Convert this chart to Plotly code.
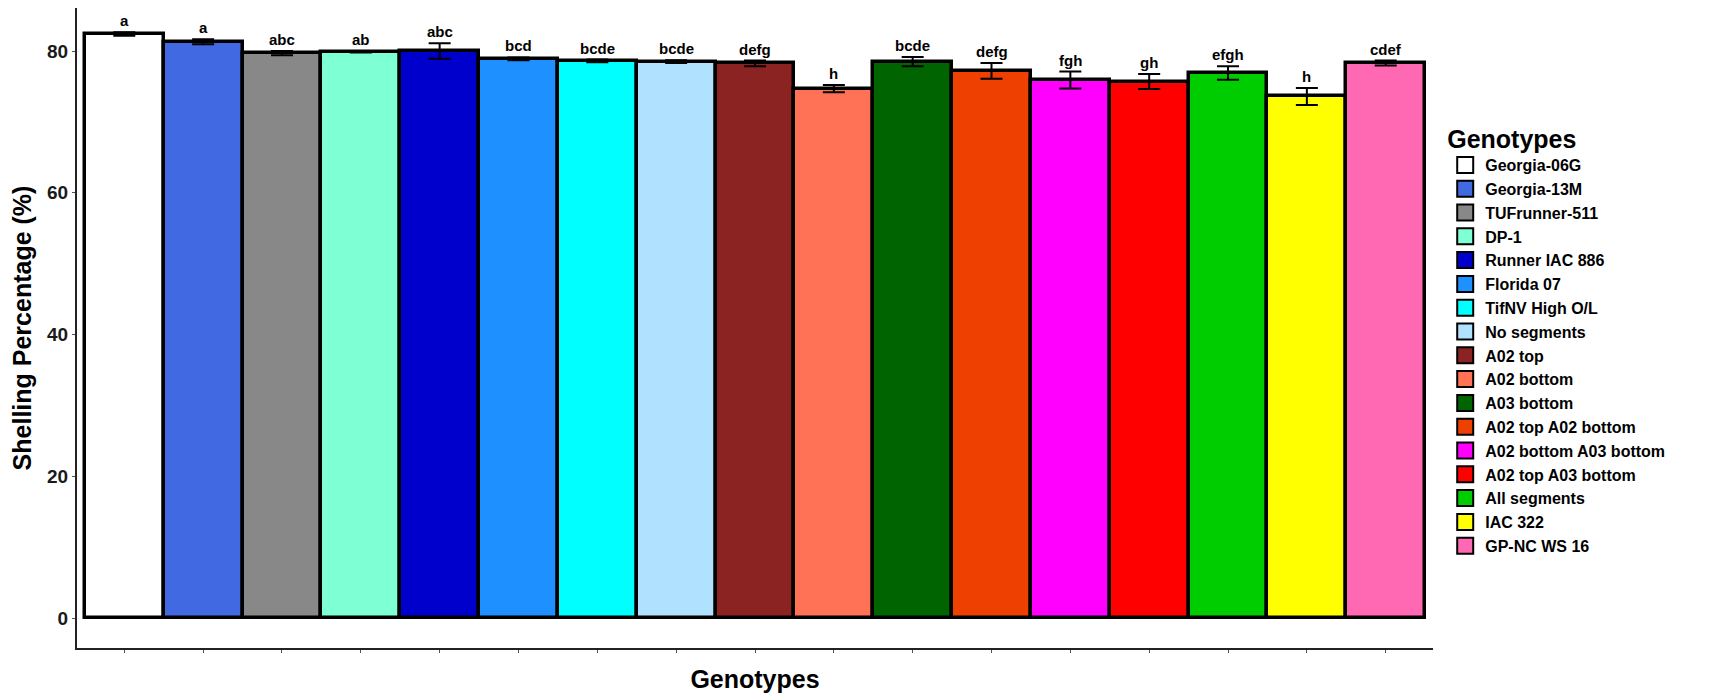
import plotly.graph_objects as go

genotypes = ["Georgia-06G", "Georgia-13M", "TUFrunner-511", "DP-1", "Runner IAC 886",
             "Florida 07", "TifNV High O/L", "No segments", "A02 top", "A02 bottom",
             "A03 bottom", "A02 top A02 bottom", "A02 bottom A03 bottom", "A02 top A03 bottom",
             "All segments", "IAC 322", "GP-NC WS 16"]
means = [82.4, 81.3, 79.7, 79.9, 80.0, 78.9, 78.6, 78.5, 78.25, 74.7,
         78.5, 77.2, 75.9, 75.7, 76.9, 73.6, 78.3]
errors = [0.25, 0.35, 0.3, 0.1, 1.1, 0.2, 0.2, 0.2, 0.4, 0.5,
          0.65, 1.1, 1.2, 1.05, 0.95, 1.2, 0.35]
letters = ["a", "a", "abc", "ab", "abc", "bcd", "bcde", "bcde", "defg", "h",
           "bcde", "defg", "fgh", "gh", "efgh", "h", "cdef"]
colors = ["#FFFFFF", "#4169E1", "#888888", "#7FFFD4", "#0000CD", "#1E90FF", "#00FFFF",
          "#B0E2FF", "#8B2323", "#FF7256", "#006400", "#EE4000", "#FF00FF", "#FF0000",
          "#00CD00", "#FFFF00", "#FF69B4"]
y_ticks = [0, 20, 40, 60, 80]

FONT = "Liberation Sans, Arial, sans-serif"

fig = go.Figure()
fig.add_trace(go.Bar(
    x=genotypes, y=means, width=1.0,
    marker=dict(color=colors, line=dict(color="black", width=3.5)),
    error_y=dict(type="data", array=errors, color="black", thickness=2, width=11),
    showlegend=False,
))

# legend entries
for g, c in zip(genotypes, colors):
    fig.add_trace(go.Scatter(
        x=[None], y=[None], mode="markers", name=g,
        marker=dict(symbol="square", size=16, color=c, line=dict(color="black", width=2)),
        showlegend=True,
    ))

for g, m, e, t in zip(genotypes, means, errors, letters):
    fig.add_annotation(x=g, y=m + e, text=t, showarrow=False, yanchor="bottom", yshift=1,
                       font=dict(family=FONT, size=15, color="black", weight="bold"))

fig.update_layout(
    width=1709, height=697,
    margin=dict(l=77, r=276, t=8, b=49),
    plot_bgcolor="white", paper_bgcolor="white",
    bargap=0,
    font=dict(family=FONT, color="black"),
    legend=dict(
        title=dict(text="Genotypes", font=dict(family=FONT, size=25, weight="bold", color="black")),
        font=dict(family=FONT, size=16, weight="bold", color="black"),
        x=1.009, xanchor="left", y=0.832, yanchor="top",
        itemsizing="trace", tracegroupgap=0,
    ),
)
fig.update_xaxes(
    type="category", range=[-0.6, 16.6],
    showticklabels=False, ticks="outside", ticklen=3, tickcolor="#555555",
    showline=True, linecolor="#222222", linewidth=2, showgrid=False, zeroline=False,
    title=dict(text="Genotypes", font=dict(family=FONT, size=25, weight="bold", color="black"), standoff=18),
)
fig.update_yaxes(
    range=[-4.23, 86.07], tickvals=y_ticks,
    tickfont=dict(family=FONT, size=19, weight="bold", color="#1a1a1a"),
    ticks="outside", ticklen=3, tickcolor="#555555",
    showline=True, linecolor="#222222", linewidth=2, showgrid=False, zeroline=False,
    title=dict(text="Shelling Percentage (%)", font=dict(family=FONT, size=25, weight="bold", color="black"), standoff=8),
)

fig.write_html("out.html")
